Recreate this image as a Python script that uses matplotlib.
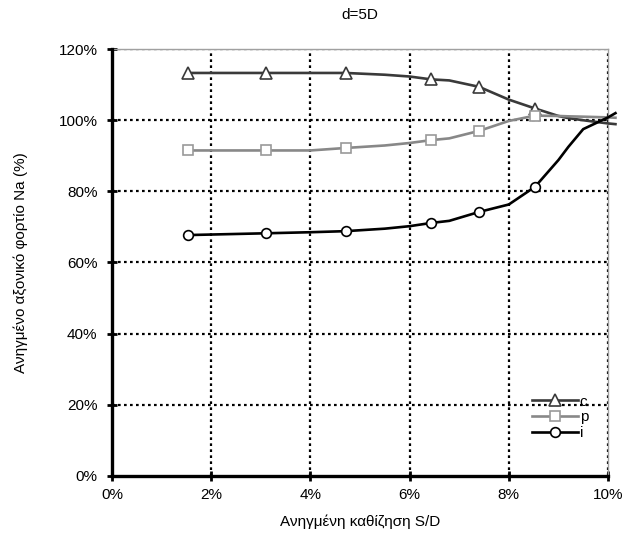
import matplotlib
matplotlib.use("Agg")
import matplotlib.pyplot as plt
from matplotlib.ticker import FuncFormatter

plt.rcParams['font.family'] = ['Liberation Sans', 'DejaVu Sans']

# settlement S/D (%)
x = [1.53, 3.10, 4.0, 4.71, 5.5, 6.0, 6.43, 6.8, 7.40, 8.0, 8.53, 9.0, 9.2, 9.5, 10.0, 10.15]
marked = [0, 1, 3, 6, 8, 10]

# normalised axial load (%)
c_vals = [113.3, 113.3, 113.3, 113.3, 112.8, 112.3, 111.5, 111.2, 109.4, 105.8, 103.3, 101.2, 100.6, 100.0, 99.1, 98.9]
p_vals = [91.5, 91.5, 91.5, 92.2, 92.9, 93.6, 94.4, 94.9, 97.0, 99.8, 101.3, 101.2, 101.1, 101.0, 100.8, 100.7]
i_vals = [67.7, 68.2, 68.5, 68.8, 69.5, 70.2, 71.1, 71.7, 74.2, 76.3, 81.3, 88.8, 92.5, 97.5, 100.8, 102.0]

xticks = [0, 2, 4, 6, 8, 10]
yticks = [0, 20, 40, 60, 80, 100, 120]

fig = plt.figure(figsize=(6.36, 5.4), dpi=100)
ax = fig.add_axes([0.1761, 0.119, 0.7799, 0.790])

# grid
for xv in xticks[1:]:
    ax.axvline(xv, color='black', lw=1.6, ls=(0, (1.2, 1.5)), zorder=1)
for yv in yticks[1:]:
    ax.axhline(yv, color='black', lw=1.6, ls=(0, (1.2, 1.5)), zorder=1)

ax.plot(x, c_vals, color='#3a3a3a', lw=1.9, marker='^', markevery=marked,
        ms=8, mfc='white', mec='#3a3a3a', mew=1.2, label='c', clip_on=False, zorder=3)
ax.plot(x, p_vals, color='#888888', lw=1.9, marker='s', markevery=marked,
        ms=7, mfc='white', mec='#999999', mew=1.2, label='p', clip_on=False, zorder=3)
ax.plot(x, i_vals, color='black', lw=1.9, marker='o', markevery=marked,
        ms=7, mfc='white', mec='black', mew=1.2, label='i', clip_on=False, zorder=4)

ax.set_xlim(0, 10)
ax.set_ylim(0, 120)
ax.set_xticks(xticks)
ax.set_yticks(yticks)
pct = FuncFormatter(lambda v, pos: "{:d}%".format(int(round(v))))
ax.xaxis.set_major_formatter(pct)
ax.yaxis.set_major_formatter(pct)
ax.tick_params(direction='inout', length=7, width=2, labelsize=11)
ax.tick_params(axis='y', pad=7)
ax.tick_params(axis='x', pad=5)

for s in ['left', 'bottom']:
    ax.spines[s].set_linewidth(2.4)
    ax.spines[s].set_color('black')
    ax.spines[s].set_zorder(5)
for s in ['top', 'right']:
    ax.spines[s].set_linewidth(1.0)
    ax.spines[s].set_color('#a0a0a0')

ax.set_title("d=5D", fontsize=11, pad=22)
ax.set_xlabel("Ανηγμένη καθίζηση S/D", fontsize=11, labelpad=9)
ax.set_ylabel("Ανηγμένο αξονικό φορτίο Na (%)", fontsize=11, labelpad=22)

leg = ax.legend(loc='upper left', bbox_to_anchor=(0.832, 0.208), frameon=False,
                fontsize=11, handlelength=3.0, handletextpad=0.1,
                labelspacing=0.12, borderpad=0)

fig.savefig("out.png", dpi=100)
